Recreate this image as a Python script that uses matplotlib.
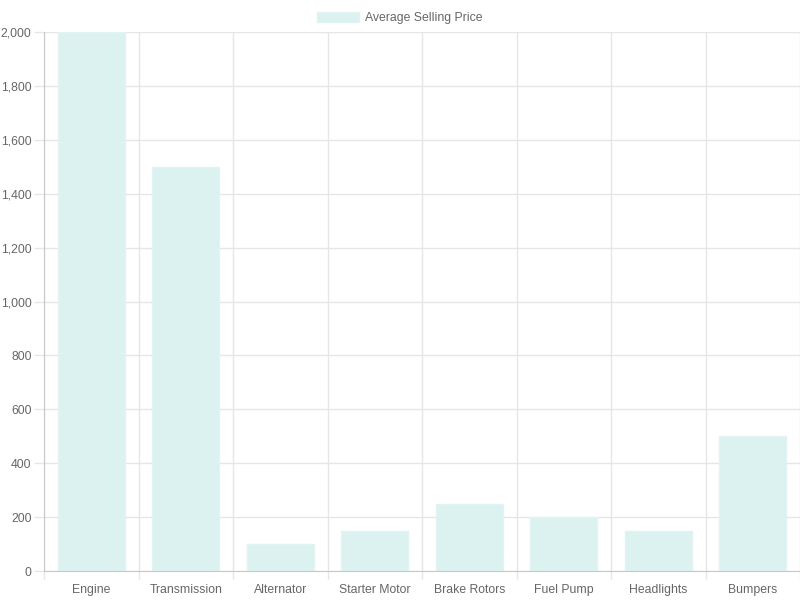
import numpy as np
import matplotlib
matplotlib.use("Agg")
import matplotlib.pyplot as plt

# data
parts = ["Engine", "Transmission", "Alternator", "Starter Motor",
         "Brake Rotors", "Fuel Pump", "Headlights", "Bumpers"]
avg_price = [2000, 1500, 100, 150, 250, 200, 150, 500]
y_ticks = [0, 200, 400, 600, 800, 1000, 1200, 1400, 1600, 1800, 2000]

plt.rcParams['font.family'] = ['Liberation Sans', 'DejaVu Sans']

fig = plt.figure(figsize=(8, 6), dpi=100)
ax = fig.add_axes([0.055, 0.0483, 0.945, 0.8984])

x = np.arange(len(parts))
bars = ax.bar(x, avg_price, width=0.71, color="#dbf2f0",
              edgecolor="#e2f4f2", linewidth=1, label="Average Selling Price", zorder=2)

ax.set_xlim(-0.5, len(parts) - 0.5)
ax.set_ylim(0, 2000)
ax.set_yticks(y_ticks)
ax.set_yticklabels(["{:,}".format(v) for v in y_ticks])
ax.set_xticks(x)
ax.set_xticklabels(parts)

# grid lines between categories, like chart.js
ax.set_xticks(np.arange(-0.5, len(parts)), minor=True)
ax.grid(False)
ax.xaxis.grid(True, which="minor", color="#e6e6e6", linewidth=1, zorder=0)
ax.yaxis.grid(True, which="major", color="#e6e6e6", linewidth=1, zorder=0)
ax.set_axisbelow(True)

ax.tick_params(axis="x", which="major", length=0, pad=9.5, labelsize=8.8, labelcolor="#666666")
ax.tick_params(axis="x", which="minor", length=6, color="#e6e6e6", width=1)
ax.tick_params(axis="y", length=7, color="#e6e6e6", width=1, pad=2, labelsize=8.8, labelcolor="#666666")

for side in ["top", "right"]:
    ax.spines[side].set_visible(False)
ax.spines["left"].set_color("#c8c8c8")
ax.spines["bottom"].set_color("#c8c8c8")

fig.legend(handles=[bars], labels=["Average Selling Price"], loc="upper center",
           bbox_to_anchor=(0.5, 0.995), frameon=False, fontsize=8.8,
           handlelength=3.4, handleheight=0.9, handletextpad=0.5,
           labelcolor="#666666", borderaxespad=0.3)

fig.savefig("out.png", dpi=100)
